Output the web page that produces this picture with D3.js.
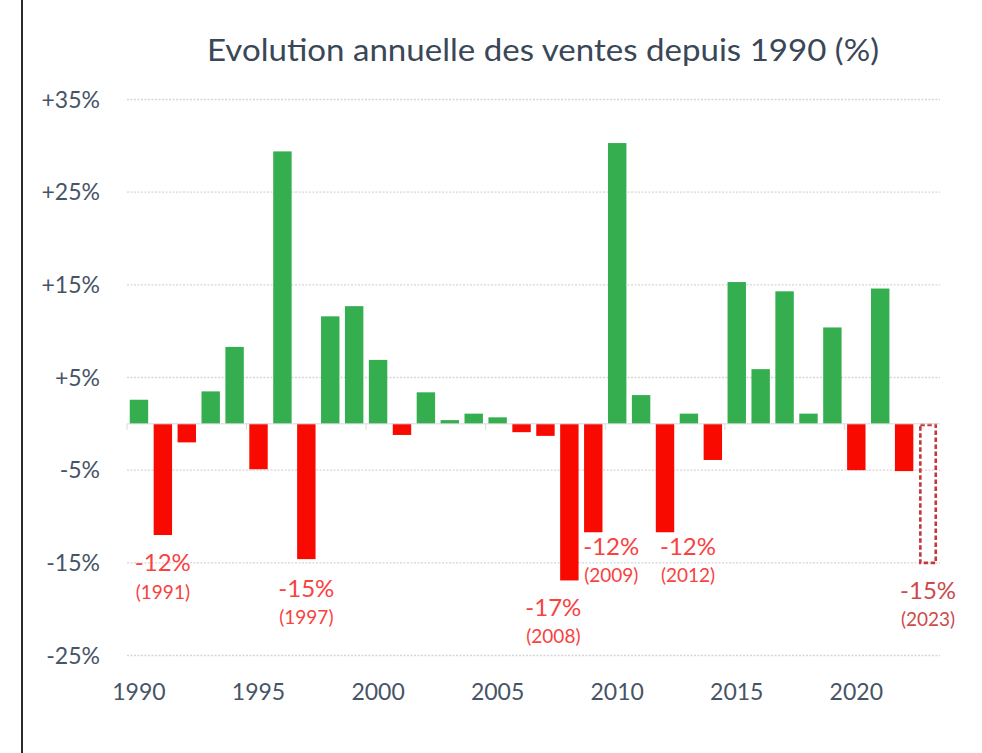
<!DOCTYPE html>
<html>
<head>
<meta charset="utf-8">
<script src="https://cdn.jsdelivr.net/npm/d3@7"></script>
<style>
  html, body { margin: 0; padding: 0; background: #fff; }
  svg { display: block; font-family: Lato, "Open Sans", sans-serif; }
</style>
</head>
<body>
<svg id="chart"></svg>
<script>
(function() {

const W = 982, H = 753;

// data
const years = d3.range(1990, 2024);
const values = [2.6, -12.0, -2.0, 3.5, 8.3, -4.9, 29.4, -14.6, 11.6, 12.7,
                6.9, -1.2, 3.4, 0.4, 1.1, 0.7, -0.9, -1.3, -16.9, -11.7,
                30.3, 3.1, -11.7, 1.1, -3.9, 15.3, 5.9, 14.3, 1.1, 10.4,
                -5.0, 14.6, -5.1, -15.0];
const estimateYear = 2023;            // dashed bar, estimate
const yTicks = [-25, -15, -5, 5, 15, 25, 35];
const xTickYears = [1990, 1995, 2000, 2005, 2010, 2015, 2020];
const annotatedYears = [1991, 1997, 2008, 2009, 2012, 2023];

const data = years.map((y, i) => ({ year: y, value: values[i] }));

const svg = d3.select("#chart").attr("width", W).attr("height", H);

// frame line on the left
svg.append("line")
    .attr("x1", 22).attr("x2", 22)
    .attr("y1", 0).attr("y2", H)
    .attr("stroke", "#2b2b2b").attr("stroke-width", 2);

svg.append("text")
    .attr("x", 543).attr("y", 61)
    .attr("text-anchor", "middle")
    .attr("textLength", 672)
    .attr("lengthAdjust", "spacingAndGlyphs")
    .style("font-size", "31px")
    .attr("fill", "#3a4757")
    .text("Evolution annuelle des ventes depuis 1990 (%)");

const x = d3.scaleBand()
    .domain(years)
    .range([127, 940])
    .paddingInner(0.23)
    .paddingOuter(0.115);

const y = d3.scaleLinear()
    .domain([-25, 35])
    .range([655.5, 99.5]);

// dotted grid
svg.append("g")
    .selectAll("line")
    .data(yTicks)
    .enter().append("line")
    .attr("x1", 127).attr("x2", 940)
    .attr("y1", d => y(d)).attr("y2", d => y(d))
    .attr("stroke", "#d6d6d6")
    .attr("stroke-width", 1.3)
    .attr("stroke-dasharray", "2,1.5");

// y labels
svg.append("g")
    .selectAll("text")
    .data(yTicks)
    .enter().append("text")
    .attr("x", 100)
    .attr("y", d => y(d))
    .attr("dy", "0.35em")
    .attr("text-anchor", "end")
    .style("font-size", "23px")
    .attr("fill", "#465466")
    .text(d => (d > 0 ? "+" : "") + d + "%");

// bars
svg.append("g")
    .selectAll("rect")
    .data(data.filter(d => d.year !== estimateYear))
    .enter().append("rect")
    .attr("x", d => x(d.year))
    .attr("width", x.bandwidth())
    .attr("y", d => y(Math.max(0, d.value)))
    .attr("height", d => Math.abs(y(d.value) - y(0)))
    .attr("fill", d => d.value >= 0 ? "#34ae4f" : "#f80a00");

// 2023 = estimate, dashed outline only
const est = data.find(d => d.year === estimateYear);
svg.append("rect")
    .attr("x", x(est.year) + 1.5)
    .attr("width", x.bandwidth() - 3)
    .attr("y", y(0) + 1)
    .attr("height", y(est.value) - y(0) - 1)
    .attr("fill", "none")
    .attr("stroke", "#c4383c")
    .attr("stroke-width", 2.6)
    .attr("stroke-dasharray", "4.5,2.5");

// zero line with ticks every 5 categories
svg.append("line")
    .attr("x1", 127).attr("x2", 940)
    .attr("y1", y(0)).attr("y2", y(0))
    .attr("stroke", "#d9d9d9").attr("stroke-width", 1);

svg.append("g")
    .selectAll("line")
    .data(xTickYears)
    .enter().append("line")
    .attr("x1", d => x(d) - x.step() * 0.115)
    .attr("x2", d => x(d) - x.step() * 0.115)
    .attr("y1", y(0)).attr("y2", y(0) + 6)
    .attr("stroke", "#d9d9d9");

// x labels
svg.append("g")
    .selectAll("text")
    .data(xTickYears)
    .enter().append("text")
    .attr("x", d => x(d) + x.bandwidth() / 2)
    .attr("y", 700)
    .attr("text-anchor", "middle")
    .style("font-size", "23px")
    .attr("fill", "#465466")
    .text(d => d);

// annotations under the big drops
const nudge = {
    1991: [0, 28], 1997: [0, 29], 2008: [-16, 27],
    2009: [18, 14], 2012: [23, 14], 2023: [0, 28]
};

const ann = svg.append("g")
    .selectAll("g")
    .data(data.filter(d => annotatedYears.includes(d.year)))
    .enter().append("g")
    .attr("transform", d => {
        const n = nudge[d.year];
        return `translate(${x(d.year) + x.bandwidth() / 2 + n[0]},${y(d.value) + n[1]})`;
    })
    .attr("fill", d => d.year === estimateYear ? "#cc4a4c" : "#f8423f");

ann.append("text")
    .attr("text-anchor", "middle")
    .attr("dy", "0.35em")
    .style("font-size", "24px")
    .text(d => Math.round(d.value) + "%");

ann.append("text")
    .attr("text-anchor", "middle")
    .attr("y", 29)
    .attr("dy", "0.35em")
    .style("font-size", "19px")
    .text(d => "(" + d.year + ")");

})();
</script>
</body>
</html>
